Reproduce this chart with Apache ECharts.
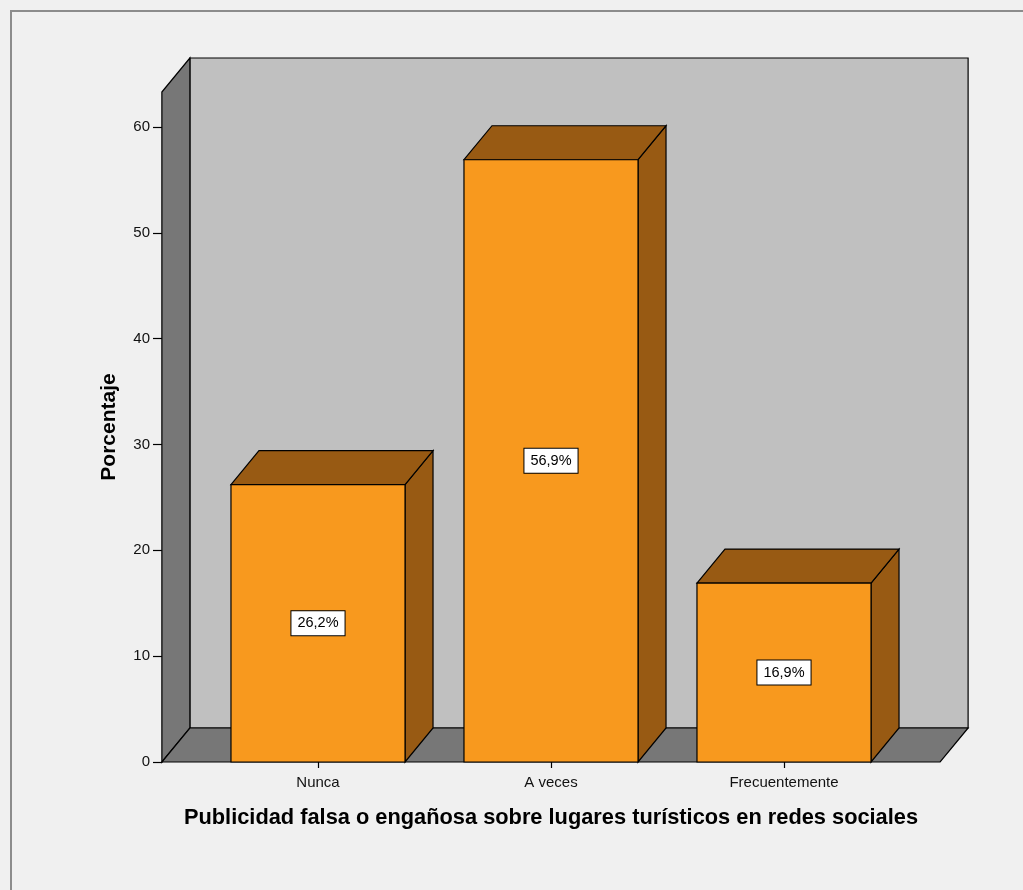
<!DOCTYPE html>
<html>
<head>
<meta charset="utf-8">
<script src="https://cdn.jsdelivr.net/npm/echarts@6/dist/echarts.min.js"></script>
<style>
  html, body { margin: 0; padding: 0; background: #f0f0f0; overflow: hidden; }
  #frame { position: absolute; left: 10px; top: 10px; width: 1100px; height: 1000px;
           border: 2px solid #8c8c8c; box-sizing: border-box; }
  #chart { position: absolute; left: 0; top: 0; width: 1023px; height: 890px; }
</style>
</head>
<body>
<div id="frame"></div>
<div id="chart"></div>
<script>
// Survey answers and their shares (percent)
const categories = ['Nunca', 'A veces', 'Frecuentemente'];
const percentages = [26.2, 56.9, 16.9];
const valueLabels = ['26,2%', '56,9%', '16,9%'];
const yTicks = [0, 10, 20, 30, 40, 50, 60];
const yMax = 63.3;

// 3D box styling
const DEPTH_X = 28;          // horizontal depth offset (px)
const DEPTH_Y = 34;          // vertical depth offset (px)
const BAR_RATIO = 0.747;     // bar width relative to a category band
const SIDE_PAD = 0.17;       // floor overhang beyond the outer bands, in bands
const FRONT = '#f8991e';
const SHADE = '#985a13';
const WALL_BACK = '#c0c0c0';
const WALL_SIDE = '#777777';
const FONT = '"Liberation Sans", Arial, sans-serif';

const chart = echarts.init(document.getElementById('chart'), null, { renderer: 'canvas' });

function renderWalls(params, api) {
  const cs = params.coordSys;
  const band = api.size([1, 0])[0];
  const pad = band * SIDE_PAD;
  const x0 = cs.x - pad;
  const x1 = cs.x + cs.width + pad;
  const yb = api.coord([0, 0])[1];
  const yt = api.coord([0, yMax])[1];
  const edge = { stroke: '#000', lineWidth: 1.2 };
  return {
    type: 'group',
    children: [
      { type: 'rect', shape: { x: x0 + DEPTH_X, y: yt - DEPTH_Y, width: x1 - x0, height: yb - yt },
        style: Object.assign({ fill: WALL_BACK }, edge) },
      { type: 'polygon', shape: { points: [[x0, yt], [x0 + DEPTH_X, yt - DEPTH_Y], [x0 + DEPTH_X, yb - DEPTH_Y], [x0, yb]] },
        style: Object.assign({ fill: WALL_SIDE }, edge) },
      { type: 'polygon', shape: { points: [[x0, yb], [x0 + DEPTH_X, yb - DEPTH_Y], [x1 + DEPTH_X, yb - DEPTH_Y], [x1, yb]] },
        style: Object.assign({ fill: WALL_SIDE }, edge) }
    ]
  };
}

function renderBar(params, api) {
  const i = api.value(0);
  const v = api.value(1);
  const base = api.coord([i, 0]);
  const top = api.coord([i, v]);
  const w = api.size([1, 0])[0] * BAR_RATIO;
  const xl = base[0] - w / 2;
  const xr = base[0] + w / 2;
  const yb = base[1];
  const yt = top[1];
  const edge = { stroke: '#000', lineWidth: 1.2 };
  return {
    type: 'group',
    children: [
      { type: 'polygon', shape: { points: [[xr, yt], [xr + DEPTH_X, yt - DEPTH_Y], [xr + DEPTH_X, yb - DEPTH_Y], [xr, yb]] },
        style: Object.assign({ fill: SHADE }, edge) },
      { type: 'polygon', shape: { points: [[xl, yt], [xl + DEPTH_X, yt - DEPTH_Y], [xr + DEPTH_X, yt - DEPTH_Y], [xr, yt]] },
        style: Object.assign({ fill: SHADE }, edge) },
      { type: 'rect', shape: { x: xl, y: yt, width: w, height: yb - yt },
        style: Object.assign({ fill: FRONT }, edge) },
      { type: 'text', x: base[0], y: (yt + yb) / 2,
        style: { text: valueLabels[params.dataIndex], align: 'center', verticalAlign: 'middle',
                 fill: '#000', fontSize: 14.5, fontFamily: FONT,
                 backgroundColor: '#fff', borderColor: '#000', borderWidth: 1, padding: [5, 6, 4, 6] } }
    ]
  };
}

chart.setOption({
  backgroundColor: 'transparent',
  animation: false,
  grid: { left: 201.5, right: 122.5, top: 92, bottom: 128 },
  xAxis: {
    type: 'category',
    data: categories,
    name: 'Publicidad falsa o engañosa sobre lugares turísticos en redes sociales',
    nameLocation: 'middle',
    nameGap: 45,
    nameTextStyle: { fontSize: 21.8, fontWeight: 'bold', color: '#000', fontFamily: FONT },
    axisLine: { show: false },
    axisTick: { show: true, alignWithLabel: true, length: 6, lineStyle: { color: '#000', width: 1.2 } },
    axisLabel: { margin: 13, fontSize: 15, color: '#111', fontFamily: FONT },
    splitLine: { show: false }
  },
  yAxis: {
    type: 'value',
    min: 0,
    max: yMax,
    offset: 39.5,
    name: 'Porcentaje',
    nameLocation: 'middle',
    nameGap: 42,
    nameTextStyle: { fontSize: 21, fontWeight: 'bold', color: '#000', fontFamily: FONT },
    axisLine: { show: true, lineStyle: { color: '#000', width: 1.2 } },
    axisTick: { show: true, length: 9, customValues: yTicks, lineStyle: { color: '#000', width: 1.2 } },
    axisLabel: { margin: 12, fontSize: 15, color: '#111', fontFamily: FONT, customValues: yTicks },
    splitLine: { show: false }
  },
  series: [
    { type: 'custom', name: 'walls', renderItem: renderWalls, data: [[0, 0]], z: 1, silent: true },
    { type: 'custom', name: 'Porcentaje', renderItem: renderBar,
      data: percentages.map((p, i) => [i, p]), z: 2 }
  ]
});
</script>
</body>
</html>
